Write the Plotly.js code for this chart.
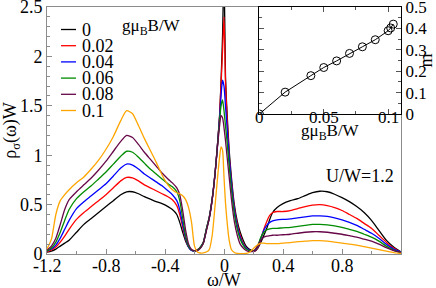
<!DOCTYPE html>
<html>
<head>
<meta charset="utf-8">
<script src="https://cdn.plot.ly/plotly-3.0.1.min.js"></script>
<style>html,body{margin:0;padding:0;background:#fff;}#chart{width:436px;height:288px;}</style>
</head>
<body>
<div id="chart"></div>
<script>
// frequency grid omega/W
const omega = [-1.2,-1.17,-1.14,-1.11,-1.08,-1.05,-1.0,-0.95,-0.9,-0.85,-0.8,-0.75,-0.7,
  -0.66,-0.62,-0.58,-0.54,-0.5,-0.46,-0.42,-0.38,-0.35,
  -0.32,-0.3,-0.28,-0.26,-0.24,-0.22,-0.2,
  -0.18,-0.16,-0.14,-0.12,-0.1,-0.08,-0.06,
  -0.045,-0.03,-0.02,-0.01,0,0.01,0.02,
  0.035,0.05,0.07,0.09,0.11,0.13,0.15,0.17,0.19,0.21,
  0.23,0.25,0.27,0.29,0.31,0.33,0.36,
  0.4,0.45,0.5,0.55,0.6,0.65,0.7,0.75,0.8,
  0.85,0.9,0.95,1.0,1.05,1.1,1.15,1.2];

// rho_sigma(omega)W for each field gmuB B/W
const rhoB000 = [0.02,0.03,0.05,0.08,0.11,0.14, 0.22,0.30,0.36,0.42,0.48,0.54,0.60,
  0.63,0.63,0.61,0.58,0.555,0.53,0.51,0.48,0.45,
  0.40,0.32,0.22,0.13,0.07,0.04,0.035,
  0.04,0.06,0.11,0.24,0.36,0.55,0.82,
  1.09,1.40,1.75,2.2,2.9,1.8,1.45,
  1.05,0.78,0.50,0.33,0.22,0.14,0.08,0.05,0.035,0.03,
  0.06,0.12,0.19,0.26,0.35,0.42,0.47,
  0.51,0.54,0.56,0.59,0.62,0.635,0.63,0.605,0.57,
  0.53,0.48,0.42,0.34,0.24,0.14,0.07,0.02];
const rhoB002 = [0.02,0.04,0.07,0.12,0.18,0.25, 0.35,0.42,0.48,0.54,0.60,0.67,0.74,
  0.775,0.77,0.74,0.70,0.67,0.64,0.61,0.58,0.55,
  0.49,0.40,0.27,0.15,0.07,0.04,0.035,
  0.045,0.07,0.12,0.25,0.37,0.56,0.83,
  1.09,1.40,1.72,2.05,2.4,1.75,1.4,
  1.0,0.74,0.47,0.30,0.19,0.11,0.065,0.04,0.03,0.03,
  0.07,0.15,0.25,0.33,0.39,0.42,0.43,
  0.43,0.44,0.46,0.48,0.495,0.50,0.49,0.47,0.44,
  0.40,0.36,0.31,0.26,0.19,0.12,0.06,0.02];
const rhoB004 = [0.03,0.05,0.09,0.16,0.25,0.34, 0.46,0.53,0.59,0.65,0.71,0.79,0.87,
  0.91,0.90,0.86,0.81,0.77,0.73,0.69,0.64,0.60,
  0.54,0.45,0.30,0.16,0.07,0.035,0.03,
  0.04,0.07,0.12,0.25,0.37,0.56,0.83,
  1.09,1.38,1.6,1.76,1.7,1.5,1.3,
  0.98,0.72,0.45,0.28,0.17,0.10,0.06,0.04,0.03,0.035,
  0.08,0.16,0.24,0.29,0.32,0.335,0.345,
  0.35,0.355,0.365,0.375,0.385,0.385,0.38,0.365,0.345,
  0.32,0.29,0.25,0.21,0.16,0.10,0.05,0.02];
const rhoB006 = [0.03,0.06,0.12,0.22,0.34,0.45, 0.56,0.63,0.69,0.76,0.83,0.91,0.99,
  1.04,1.03,0.98,0.92,0.86,0.81,0.76,0.71,0.68,
  0.63,0.54,0.36,0.18,0.08,0.04,0.03,
  0.04,0.07,0.12,0.25,0.37,0.56,0.83,
  1.08,1.35,1.5,1.56,1.45,1.3,1.15,
  0.9,0.66,0.41,0.25,0.15,0.09,0.05,0.035,0.03,0.04,
  0.09,0.17,0.22,0.245,0.255,0.26,0.26,
  0.265,0.27,0.28,0.29,0.30,0.30,0.295,0.285,0.27,
  0.25,0.23,0.20,0.17,0.13,0.08,0.04,0.015];
const rhoB008 = [0.04,0.08,0.16,0.30,0.45,0.55, 0.63,0.70,0.77,0.85,0.94,1.04,1.14,
  1.20,1.18,1.11,1.03,0.96,0.89,0.82,0.76,0.72,
  0.67,0.60,0.44,0.24,0.10,0.045,0.03,
  0.035,0.06,0.11,0.23,0.36,0.55,0.82,
  1.07,1.3,1.4,1.38,1.28,1.15,1.0,
  0.78,0.56,0.33,0.19,0.10,0.06,0.035,0.025,0.025,0.04,
  0.09,0.14,0.17,0.18,0.185,0.19,0.19,
  0.195,0.20,0.21,0.22,0.225,0.225,0.22,0.21,0.20,
  0.185,0.17,0.15,0.13,0.10,0.065,0.035,0.015];
const rhoB010 = [0.05,0.15,0.40,0.54,0.60,0.65, 0.72,0.78,0.86,0.95,1.06,1.19,1.35,
  1.45,1.42,1.30,1.17,1.05,0.93,0.80,0.70,0.65,
  0.62,0.61,0.59,0.55,0.47,0.32,0.08,
  0.02,0.01,0.012,0.02,0.045,0.19,0.50,
  0.75,0.98,1.085,1.05,0.78,0.52,0.34,
  0.14,0.045,0.015,0.005,0.003,0.003,0.005,0.015,0.04,0.07,
  0.095,0.11,0.11,0.105,0.105,0.105,0.105,
  0.11,0.115,0.125,0.13,0.135,0.135,0.13,0.12,0.11,
  0.10,0.09,0.075,0.06,0.045,0.03,0.015,0.005];

const fieldLabels = ['0','0.02','0.04','0.06','0.08','0.1'];
const seriesColors = ['#000000','#ff0000','#0000ff','#008b00','#670748','#ffa500'];
const rhoSeries = [rhoB000, rhoB002, rhoB004, rhoB006, rhoB008, rhoB010];

// inset: magnetization m vs gmuB B/W
const insetField = [0,0.02,0.04,0.05,0.06,0.07,0.08,0.09,0.1,0.102,0.104];
const insetM = [0,0.102,0.179,0.217,0.248,0.283,0.314,0.347,0.389,0.402,0.42];

const xTickVals = [-1.2,-0.8,-0.4,0,0.4,0.8];
const xTickText = ['-1.2','-0.8','-0.4','0','0.4','0.8'];
const insetXTickVals = [0,0.05,0.1];
const insetXTickText = ['0','0.05','0.1'];

const FONT = 'Liberation Serif, Times New Roman, serif';
const traces = rhoSeries.map((ys, i) => ({
  x: omega, y: ys, type: 'scatter', mode: 'lines', xaxis: 'x', yaxis: 'y',
  name: fieldLabels[i], showlegend: false, hoverinfo: 'skip',
  line: {color: seriesColors[i], width: 1.3, shape: 'spline', smoothing: 0.6}
}));
traces.push({
  x: insetField, y: insetM, type: 'scatter', mode: 'lines+markers', xaxis: 'x2', yaxis: 'y2',
  showlegend: false, hoverinfo: 'skip',
  line: {color: '#000', width: 1},
  marker: {symbol: 'circle-open', size: 8, color: '#000', line: {width: 1, color: '#000'}}
});

// geometry helpers (pixel -> paper)
const L = 47, R = 35, T = 7, B = 34, W = 436, H = 288;
const pw = W - L - R, ph = H - T - B;
const px = v => (v - L) / pw;
const py = v => (H - B - v) / ph;
const insetDomY = [0.567, 1];
const annotations = [];
const shapes = [];
const txt = (size) => ({family: FONT, size: size, color: '#000'});

// legend built from labels/colours
fieldLabels.forEach((lab, i) => {
  const yy = py(29.5 + 16.2 * i);
  shapes.push({type: 'line', xref: 'paper', yref: 'paper', x0: px(61), x1: px(76), y0: yy, y1: yy,
    line: {color: seriesColors[i], width: 1.3}});
  annotations.push({xref: 'paper', yref: 'paper', x: px(80), y: yy, xanchor: 'left', yanchor: 'middle',
    text: lab, showarrow: false, font: txt(18)});
});
annotations.push({xref: 'paper', yref: 'paper', x: px(120), y: py(27), xanchor: 'left', yanchor: 'middle',
  text: 'gμ<sub>B</sub>B/W', showarrow: false, font: txt(17)});
annotations.push({xref: 'paper', yref: 'paper', x: px(360), y: py(176), xanchor: 'center', yanchor: 'middle',
  text: 'U/W=1.2', showarrow: false, font: txt(18)});

// main x tick labels placed through the x scale
xTickVals.forEach((v, i) => {
  annotations.push({xref: 'x', yref: 'paper', x: v, y: py(265.5), xanchor: 'center', yanchor: 'middle',
    text: xTickText[i], showarrow: false, font: txt(18)});
});
annotations.push({xref: 'paper', yref: 'paper', x: px(224), y: py(280), xanchor: 'center', yanchor: 'middle',
  text: 'ω/W', showarrow: false, font: txt(18)});

// inset x tick labels through the x2 scale
insetXTickVals.forEach((v, i) => {
  annotations.push({xref: 'x2', yref: 'paper', x: v, y: py(117.5), xanchor: 'center', yanchor: 'middle',
    text: insetXTickText[i], showarrow: false, font: txt(17)});
});
annotations.push({xref: 'paper', yref: 'paper', x: px(330), y: py(132), xanchor: 'center', yanchor: 'middle',
  text: 'gμ<sub>B</sub>B/W', showarrow: false, font: txt(17)});

const gray = '#8c8c8c';
const layout = {
  width: W, height: H,
  margin: {l: L, r: R, t: T, b: B, pad: 0},
  paper_bgcolor: '#fff', plot_bgcolor: '#fff',
  font: {family: FONT, size: 18, color: '#000'},
  showlegend: false,
  xaxis: {
    domain: [0, 1], anchor: 'y', range: [-1.2, 1.2],
    tickmode: 'array', tickvals: xTickVals, ticktext: xTickText, showticklabels: false,
    ticks: 'inside', ticklen: 5, tickwidth: 1, tickcolor: gray,
    minor: {tickmode: 'linear', tick0: -1.2, dtick: 0.2, ticks: 'inside', ticklen: 3, tickwidth: 1, tickcolor: gray},
    showline: true, linecolor: gray, linewidth: 1, mirror: true,
    showgrid: false, zeroline: false
  },
  yaxis: {
    domain: [0, 1], anchor: 'x', range: [0, 2.5],
    tickmode: 'linear', tick0: 0, dtick: 0.5,
    ticks: 'inside', ticklen: 5, tickwidth: 1, tickcolor: gray,
    minor: {tickmode: 'linear', tick0: 0, dtick: 0.1, ticks: 'inside', ticklen: 3, tickwidth: 1, tickcolor: gray},
    showline: true, linecolor: gray, linewidth: 1, mirror: true,
    showgrid: false, zeroline: false, ticklabeloverflow: 'allow',
    tickfont: {family: FONT, size: 18},
    title: {text: 'ρ<sub>σ</sub>(ω)W', font: {family: FONT, size: 18}, standoff: 4}
  },
  xaxis2: {
    domain: [0.6, 1], anchor: 'y2', range: [0, 0.11],
    tickmode: 'array', tickvals: insetXTickVals, ticktext: insetXTickText, showticklabels: false,
    ticks: 'inside', ticklen: 5, tickwidth: 1, tickcolor: '#555',
    minor: {tickmode: 'linear', tick0: 0, dtick: 0.025, ticks: 'inside', ticklen: 3, tickwidth: 1, tickcolor: '#555'},
    showline: true, linecolor: '#000', linewidth: 1, mirror: 'allticks',
    showgrid: false, zeroline: false
  },
  yaxis2: {
    domain: insetDomY, anchor: 'x2', side: 'right', range: [0, 0.5],
    tickmode: 'linear', tick0: 0, dtick: 0.1,
    ticks: 'inside', ticklen: 5, tickwidth: 1, tickcolor: '#555',
    minor: {tickmode: 'linear', tick0: 0, dtick: 0.05, ticks: 'inside', ticklen: 3, tickwidth: 1, tickcolor: '#555'},
    showline: true, linecolor: '#000', linewidth: 1, mirror: 'allticks',
    showgrid: false, zeroline: false, ticklabeloverflow: 'allow',
    tickfont: {family: FONT, size: 17},
    title: {text: 'm', font: {family: FONT, size: 18}, standoff: 2}
  },
  annotations: annotations,
  shapes: shapes
};
Plotly.newPlot('chart', traces, layout, {staticPlot: true, displayModeBar: false});
</script>
</body>
</html>
